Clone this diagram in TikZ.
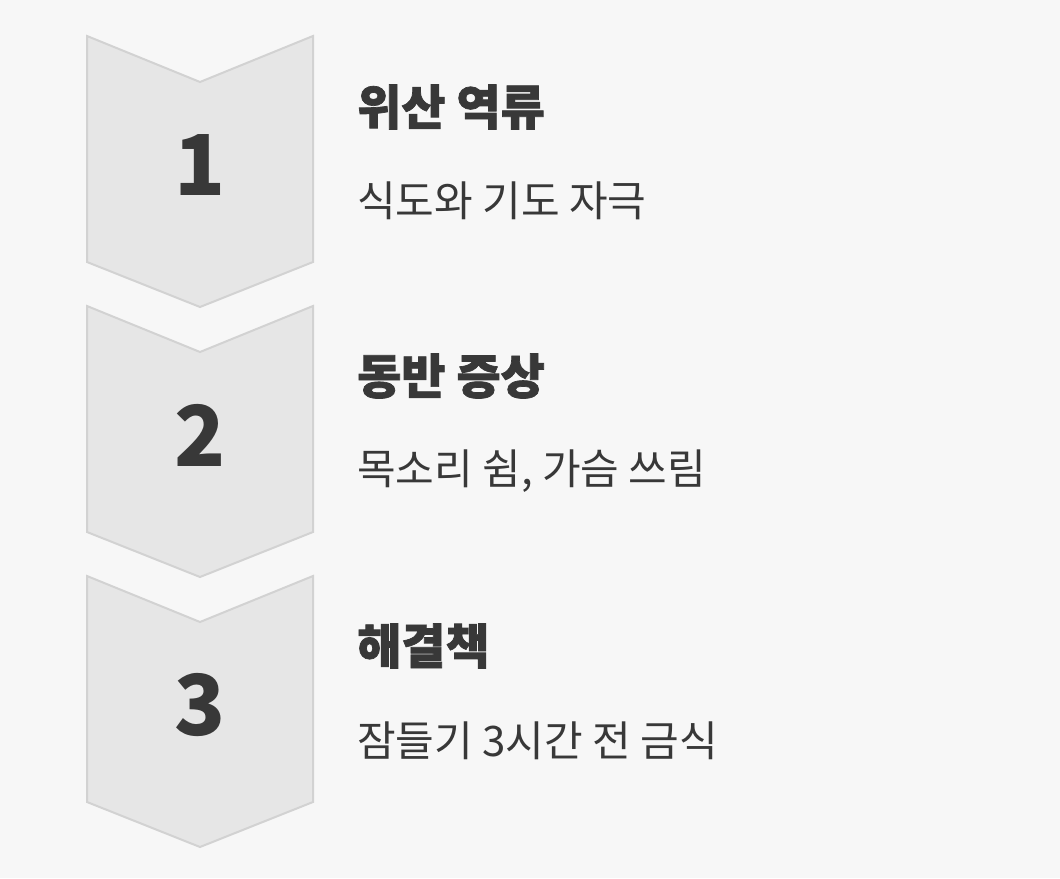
\documentclass[tikz,border=0pt]{standalone}
\usepackage{fontspec}
\newfontfamily\cjk{Noto Sans CJK KR}
\newfontfamily\cjkheavy[FakeBold=1.5]{Noto Sans CJK KR Black}
\newfontfamily\cjknum{Noto Sans CJK KR Black}
\definecolor{bg}{HTML}{F7F7F7}
\definecolor{chevfill}{HTML}{E6E6E6}
\definecolor{chevline}{HTML}{D2D2D2}
\definecolor{txt}{HTML}{383838}
\tikzset{
  chev/.style={fill=chevfill, draw=chevline, line width=2pt, line join=miter},
  num/.style={font=\cjknum\fontsize{84}{84}\selectfont, text=txt, inner sep=0pt},
  ttl/.style={font=\cjkheavy\fontsize{48}{48}\selectfont, text=txt, inner sep=0pt, anchor=west},
  sub/.style={font=\cjk\fontsize{42}{42}\selectfont, text=txt, inner sep=0pt, anchor=west}
}
\begin{document}
\begin{tikzpicture}[x=1pt,y=-1pt]
\fill[bg] (0,0) rectangle (1060,878);
\useasboundingbox (0,0) rectangle (1060,878);
\foreach \o/\n in {0/1,270/2,540/3}{
  \draw[chev] (87,36+\o) -- (200,82+\o) -- (313,36+\o) -- (313,262+\o) -- (200,307+\o) -- (87,262+\o) -- cycle;
}
\node[num] (n1) at (200,165) {1};
\node[num] (n2) at (200,435) {2};
\node[num] (n3) at (200,705) {3};
\node[ttl] (t1) at (357,107) {위산 역류};
\node[sub] (s1) at (357,201) {식도와 기도 자극};
\node[ttl] (t2) at (357,376) {동반 증상};
\node[sub] (s2) at (357,471) {목소리 쉼, 가슴 쓰림};
\node[ttl] (t3) at (357,646) {해결책};
\node[sub] (s3) at (357,741) {잠들기 3시간 전 금식};
\end{tikzpicture}
\end{document}
